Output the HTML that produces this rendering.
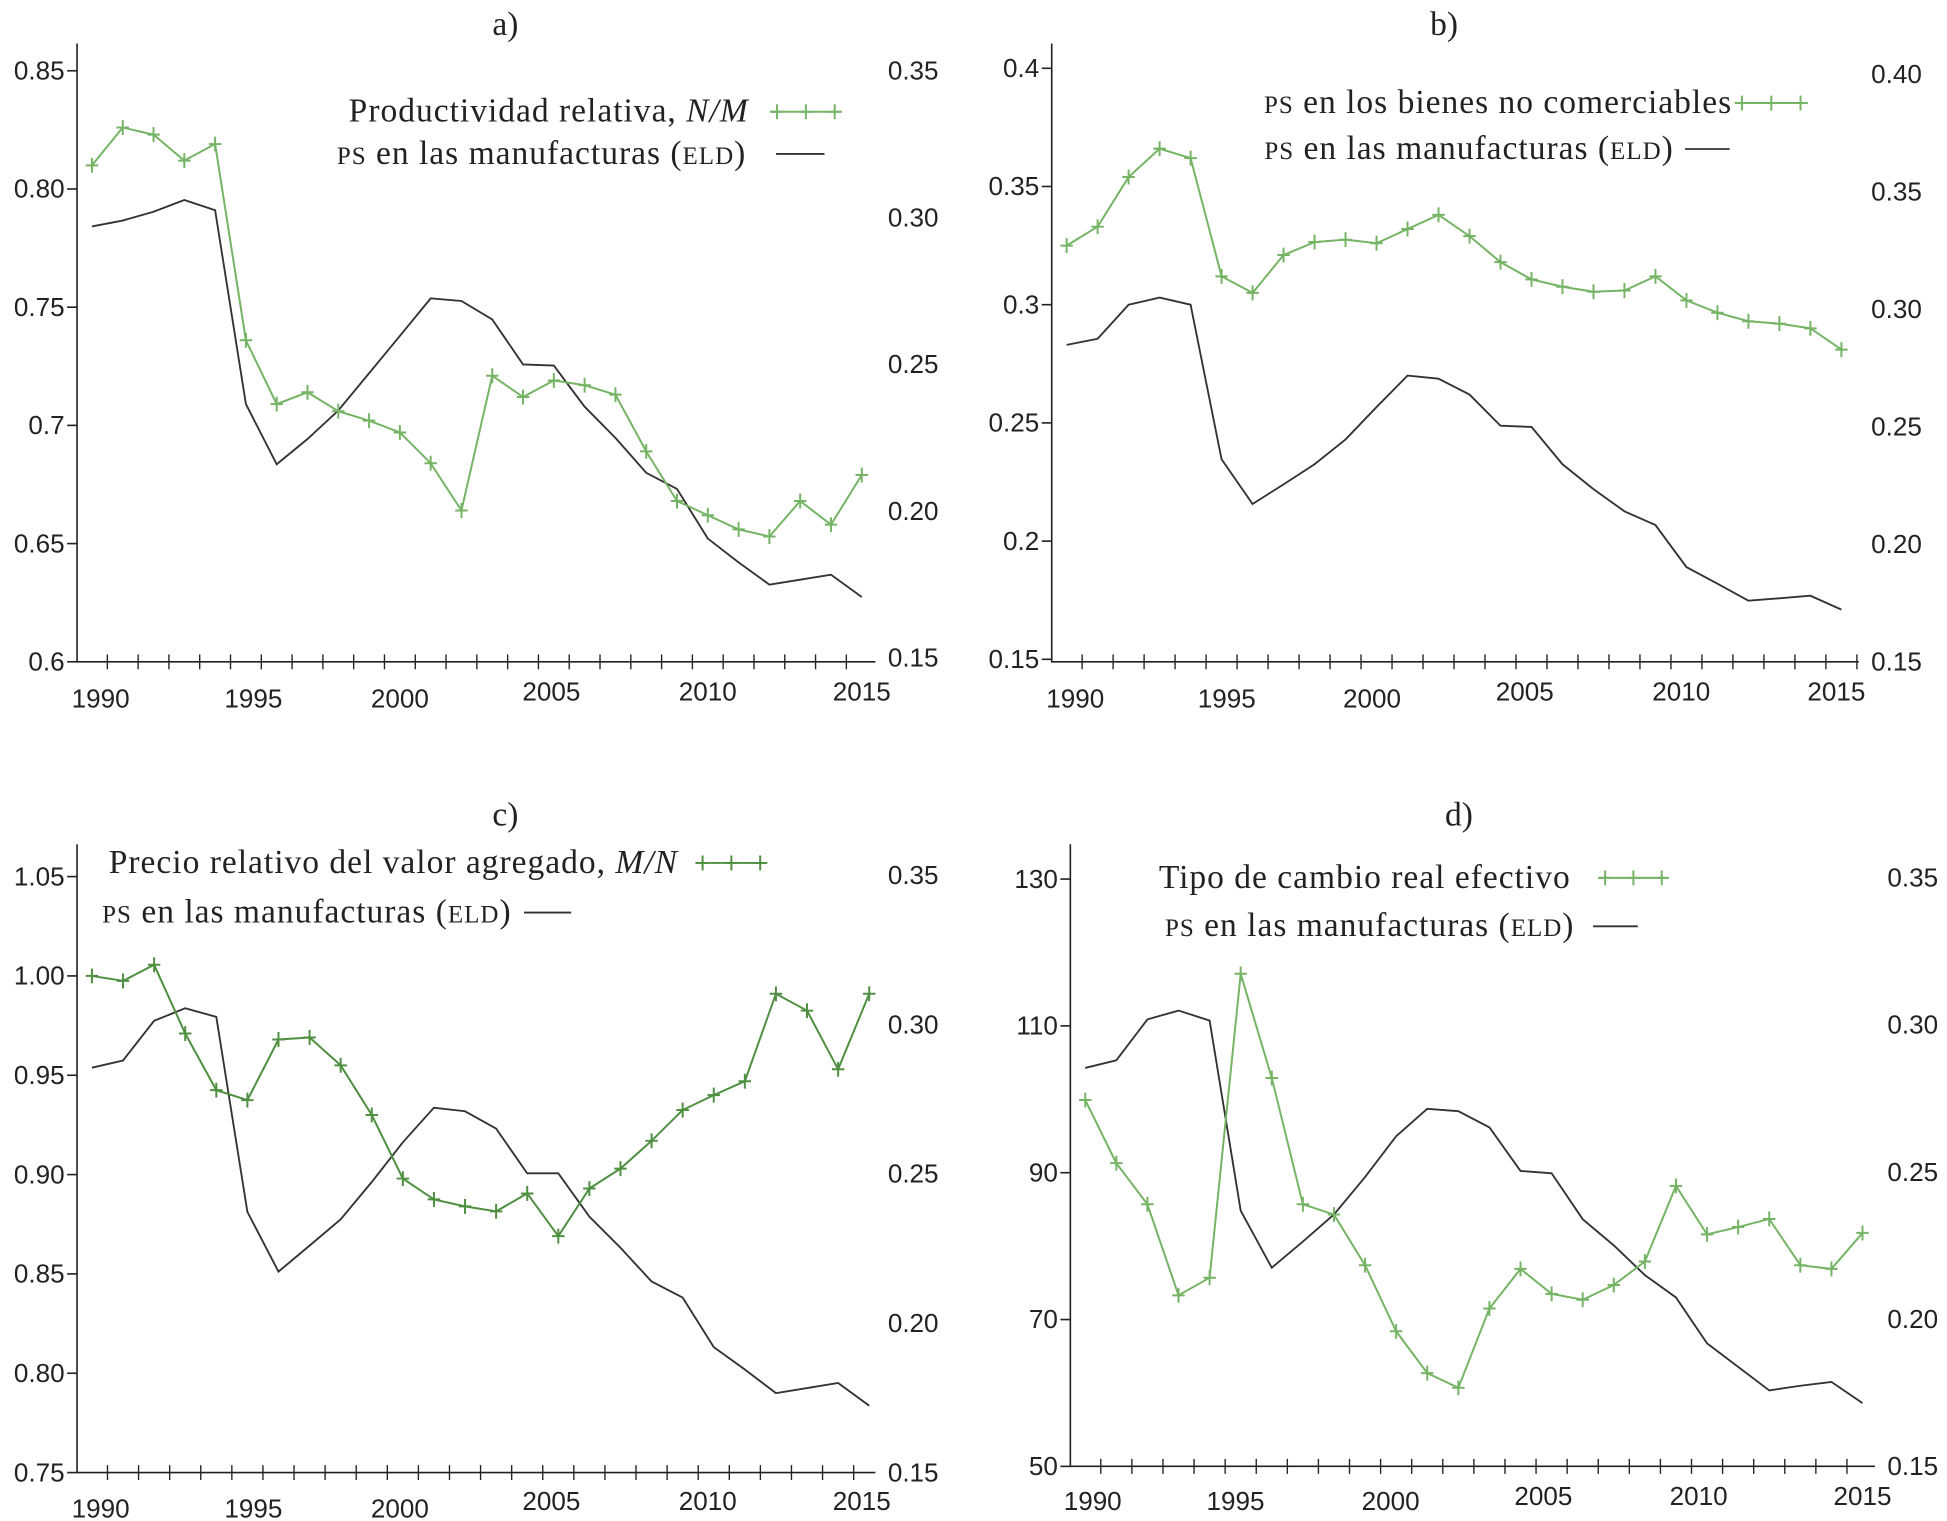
<!DOCTYPE html>
<html><head><meta charset="utf-8"><style>
html,body{margin:0;padding:0;background:#fff;}
svg{display:block;}
.tk{font-family:"Liberation Sans",sans-serif;font-size:21px;fill:#222;}
.tt{font-family:"Liberation Serif",serif;font-size:27px;fill:#222;}
.lg{font-family:"Liberation Serif",serif;font-size:27px;letter-spacing:0.8px;fill:#222;}
.sc{font-variant:small-caps;font-size:29px;}
</style></head><body>
<svg id="fig" width="1947" height="1521" viewBox="0 0 1568 1225" xmlns="http://www.w3.org/2000/svg"></svg>
<script>
const years=[1990,1991,1992,1993,1994,1995,1996,1997,1998,1999,2000,2001,2002,2003,2004,2005,2006,2007,2008,2009,2010,2011,2012,2013,2014,2015];
const xTickYears=[1990,1995,2000,2005,2010,2015];
const aGreen=[0.81,0.826,0.823,0.812,0.819,0.736,0.709,0.714,0.706,0.702,0.697,0.684,0.664,0.721,0.712,0.719,0.717,0.713,0.689,0.668,0.662,0.656,0.653,0.668,0.658,0.679];
const aBlack=[0.297,0.299,0.302,0.306,0.3025,0.2365,0.216,0.2246,0.2343,0.247,0.2597,0.2725,0.2716,0.2653,0.25,0.2496,0.2356,0.225,0.2131,0.2076,0.1907,0.1826,0.175,0.1767,0.1784,0.1708];
const bGreen=[0.325,0.333,0.354,0.366,0.362,0.312,0.305,0.321,0.3265,0.3275,0.326,0.332,0.338,0.329,0.318,0.3107,0.3076,0.3055,0.306,0.312,0.3018,0.2966,0.293,0.292,0.29,0.281];
const bBlack=[0.283,0.2856,0.3,0.303,0.3,0.2346,0.2157,0.224,0.2325,0.243,0.2567,0.27,0.2687,0.262,0.2488,0.2483,0.2325,0.222,0.2126,0.2068,0.189,0.182,0.1748,0.1758,0.1769,0.171];
const cGreen=[1.0,0.9975,1.0056,0.971,0.9425,0.9375,0.968,0.969,0.955,0.93,0.898,0.8875,0.884,0.8815,0.8905,0.869,0.893,0.903,0.917,0.9325,0.94,0.947,0.991,0.9825,0.953,0.991];
const cBlack=[0.2856,0.288,0.3013,0.3055,0.3026,0.2373,0.2173,0.226,0.2348,0.2473,0.2606,0.2722,0.271,0.2652,0.2502,0.2502,0.2357,0.2253,0.214,0.2086,0.192,0.1845,0.1766,0.1783,0.18,0.1724];
const dGreen=[99.9,91.3,85.7,73.3,75.7,117.1,102.9,85.7,84.3,77.4,68.4,62.7,60.7,71.5,76.9,73.5,72.7,74.7,77.9,88.2,81.6,82.6,83.7,77.4,76.9,81.8];
const dBlack=[0.2854,0.288,0.3019,0.3049,0.3015,0.2369,0.2175,0.2264,0.2356,0.2483,0.2622,0.2715,0.2707,0.2652,0.2504,0.2496,0.234,0.2251,0.215,0.2074,0.1918,0.1838,0.1758,0.1774,0.1787,0.1715];
const aLeftTicks=["0.6","0.65","0.7","0.75","0.80","0.85"];
const aRightTicks=["0.15","0.20","0.25","0.30","0.35"];
const bLeftTicks=["0.15","0.2","0.25","0.3","0.35","0.4"];
const bRightTicks=["0.15","0.20","0.25","0.30","0.35","0.40"];
const cLeftTicks=["0.75","0.80","0.85","0.90","0.95","1.00","1.05"];
const cRightTicks=["0.15","0.20","0.25","0.30","0.35"];
const dLeftTicks=["50","70","90","110","130"];
const dRightTicks=["0.15","0.20","0.25","0.30","0.35"];

const NS="http://www.w3.org/2000/svg";
const svg=document.getElementById('fig');
function mk(tag,attrs,parent,text){const e=document.createElementNS(NS,tag);for(const k in attrs)e.setAttribute(k,attrs[k]);if(text!==undefined)e.textContent=text;(parent||svg).appendChild(e);return e;}

const charts=[
 {id:'a',title:'a)',tx:407,ty:28,x0:62,xEnd:705,top:35,bot:533,y1990:74,y2015:694,
  lMin:0.6,lMax:0.85,lPy0:533,lPy1:57,rMin:0.15,rMax:0.35,rPy0:530,rPy1:57,
  green:aGreen,black:aBlack,lt:aLeftTicks,rt:aRightTicks,gc:'#74b464',
  lab:[81,204,322,444,570,694],laby:[570,570,570,564,564,564],
  l1:['Productividad relativa, ','N/M'],l1x:603,l1y:98,g0:620,g1:678,l2x:601,l2y:132,b0:625,b1:664},
 {id:'b',title:'b)',tx:1163,ty:28,x0:847,xEnd:1497,top:35,bot:533,y1990:859,y2015:1483,
  lMin:0.15,lMax:0.4,lPy0:531,lPy1:55,rMin:0.15,rMax:0.4,rPy0:531,rPy1:55,
  rLabMin:0.15,rLabMax:0.40,rLabPy0:533,rLabPy1:60,
  green:bGreen,black:bBlack,blackLeft:true,lt:bLeftTicks,rt:bRightTicks,gc:'#74b464',
  lab:[866,988,1105,1228,1354,1479],laby:[570,570,570,564,564,564],
  l1:['ps en los bienes no comerciables',''],l1x:1395,l1y:91,g0:1397,g1:1456,l2x:1348,l2y:128,b0:1357,b1:1393},
 {id:'c',title:'c)',tx:407,ty:665,x0:62,xEnd:705,top:680,bot:1186,y1990:74,y2015:700,
  lMin:0.75,lMax:1.05,lPy0:1186,lPy1:706,rMin:0.15,rMax:0.35,rPy0:1186,rPy1:705,
  green:cGreen,black:cBlack,lt:cLeftTicks,rt:cRightTicks,gc:'#4e8f40',
  lab:[81,204,322,444,570,694],laby:[1222,1222,1222,1216,1216,1216],
  l1:['Precio relativo del valor agregado, ','M/N'],l1x:546,l1y:703,g0:560,g1:618,l2x:412,l2y:743,b0:422,b1:460},
 {id:'d',title:'d)',tx:1175,ty:665,x0:862,xEnd:1510,top:680,bot:1181,y1990:874,y2015:1500,
  lMin:50,lMax:130,lPy0:1181,lPy1:708,rMin:0.15,rMax:0.35,rPy0:1181,rPy1:707,
  green:dGreen,black:dBlack,lt:dLeftTicks,rt:dRightTicks,gc:'#74b464',
  lab:[880,995,1120,1243,1368,1500],laby:[1216,1216,1216,1212,1212,1212],
  l1:['Tipo de cambio real efectivo',''],l1x:1265,l1y:715,g0:1287,g1:1344,l2x:1268,l2y:754,b0:1283,b1:1319}
];

function star(g,x,y,c){
  const s=mk('path',{d:`M${x-5} ${y}H${x+5}M${x} ${y-6}V${y+6}`,stroke:c,'stroke-width':1.6,fill:'none'},g);
  
  
}

charts.forEach(ch=>{
  const g=mk('g',{});
  
  
  const xs=y=>ch.y1990+(y-1990)*(ch.y2015-ch.y1990)/25;
  const yl=v=>ch.lPy0+(v-ch.lMin)*(ch.lPy1-ch.lPy0)/(ch.lMax-ch.lMin);
  const yr=v=>ch.rPy0+(v-ch.rMin)*(ch.rPy1-ch.rPy0)/(ch.rMax-ch.rMin);
  const t=mk('text',{x:ch.tx,y:ch.ty,'text-anchor':'middle',class:'tt'},g,ch.title);
  
  
  const ax=mk('path',{d:`M${ch.x0} ${ch.top}V${ch.bot}H${ch.xEnd}`,stroke:'#222','stroke-width':1.3,fill:'none'},g);
  
  
  let d='';
  for(let k=0;k<=25;k++){const x=xs(1990.5+k);if(x<=ch.xEnd)d+=`M${x} ${ch.bot-6}V${ch.bot+6}`;}
  const xt=mk('path',{d:d,stroke:'#222','stroke-width':1.1},g);
  
  
  xTickYears.forEach((yy,i)=>{
    const e=mk('text',{x:ch.lab[i],y:ch.laby[i],'text-anchor':'middle',class:'tk'},g,String(yy));
    
    
  });
  const n=ch.lt.length;
  ch.lt.forEach((lbl,i)=>{
    const v=ch.lMin+i*(ch.lMax-ch.lMin)/(n-1);
    const y=yl(v);
    const tk=mk('path',{d:`M${ch.x0-8} ${y}H${ch.x0}`,stroke:'#222','stroke-width':1.3},g);
    
    
    const e=mk('text',{x:ch.x0-10,y:y+7,'text-anchor':'end',class:'tk'},g,lbl);
    
    
  });
  const m=ch.rt.length;
  const rMin=ch.rLabMin||ch.rMin,rMax=ch.rLabMax||ch.rMax,p0=ch.rLabPy0||ch.rPy0,p1=ch.rLabPy1||ch.rPy1;
  ch.rt.forEach((lbl,i)=>{
    const v=rMin+i*(rMax-rMin)/(m-1);
    const y=p0+(v-rMin)*(p1-p0)/(rMax-rMin);
    const e=mk('text',{x:ch.xEnd+10,y:y+7,class:'tk'},g,lbl);
    
    
  });
  const by=ch.blackLeft?yl:yr;
  const bl=mk('polyline',{points:ch.black.map((v,i)=>xs(years[i])+','+by(v)).join(' '),stroke:'#333','stroke-width':1.5,fill:'none'},g);
  
  
  const gl=mk('polyline',{points:ch.green.map((v,i)=>xs(years[i])+','+yl(v)).join(' '),stroke:ch.gc,'stroke-width':1.6,fill:'none'},g);
  
  
  ch.green.forEach((v,i)=>star(g,xs(years[i]),yl(v),ch.gc));
  const l1=mk('text',{x:ch.l1x,y:ch.l1y,'text-anchor':'end',class:'lg'},g);
  
  
  if(ch.id==='b'){
    mk('tspan',{class:'sc'},l1,'ps');
    mk('tspan',{},l1,' en los bienes no comerciables');
  } else {
    mk('tspan',{},l1,ch.l1[0]);
    if(ch.l1[1])mk('tspan',{'font-style':'italic'},l1,ch.l1[1]);
  }
  const ly=ch.l1y-8;
  const lgl=mk('line',{x1:ch.g0,y1:ly,x2:ch.g1,y2:ly,stroke:ch.gc,'stroke-width':1.6},g);
  
  
  [0.1,0.5,0.9].forEach(f=>star(g,ch.g0+(ch.g1-ch.g0)*f,ly,ch.gc));
  const l2=mk('text',{x:ch.l2x,y:ch.l2y,'text-anchor':'end',class:'lg'},g);
  
  
  mk('tspan',{class:'sc'},l2,'ps');
  mk('tspan',{},l2,' en las manufacturas (');
  mk('tspan',{class:'sc'},l2,'eld');
  mk('tspan',{},l2,')');
  const lbl2=mk('line',{x1:ch.b0,y1:ch.l2y-8,x2:ch.b1,y2:ch.l2y-8,stroke:'#333','stroke-width':1.5},g);
  
  
});
</script>
</body></html>
